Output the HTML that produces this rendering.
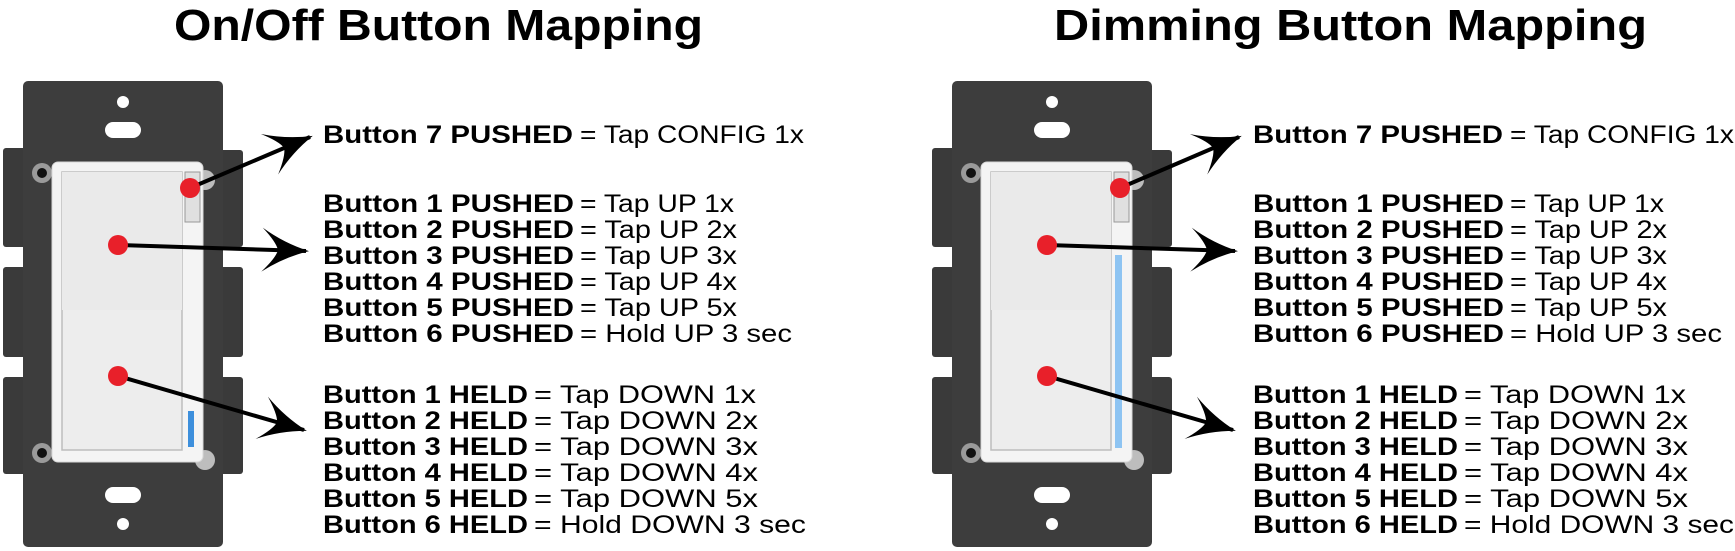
<!DOCTYPE html>
<html><head><meta charset="utf-8"><style>
html,body{margin:0;padding:0;background:#fff;width:1735px;height:551px;overflow:hidden}
svg{display:block}
text{font-family:"Liberation Sans",sans-serif;fill:#000}
.b{font-weight:bold;font-size:25px}
.r{font-size:25px}
.t{font-weight:bold;font-size:44px}
</style></head><body>
<svg width="1735" height="551" viewBox="0 0 1735 551" xmlns="http://www.w3.org/2000/svg">
<defs>
<marker id="ah" markerUnits="userSpaceOnUse" markerWidth="50" markerHeight="50" refX="0" refY="0" viewBox="-46 -25 50 50" orient="auto">
<path d="M3,0 Q-22,-7 -44,-22 Q-30,-8 -28,0 Q-30,8 -44,22 Q-22,7 3,0 Z" fill="#000"/>
</marker>
<g id="sw">
<rect x="3" y="148" width="26" height="99" rx="3" fill="#3a3a3a"/>
<rect x="3" y="267" width="26" height="90" rx="3" fill="#3a3a3a"/>
<rect x="3" y="377" width="26" height="97" rx="3" fill="#3a3a3a"/>
<rect x="217" y="150" width="26" height="97" rx="3" fill="#3a3a3a"/>
<rect x="217" y="267" width="26" height="90" rx="3" fill="#3a3a3a"/>
<rect x="217" y="377" width="26" height="97" rx="3" fill="#3a3a3a"/>
<rect x="23" y="81" width="200" height="466" rx="5" fill="#3d3d3d"/>
<circle cx="123" cy="102" r="6" fill="#fff"/>
<rect x="105" y="122" width="36" height="16" rx="8" fill="#fff"/>
<rect x="105" y="487" width="36" height="16" rx="8" fill="#fff"/>
<circle cx="123" cy="524" r="6" fill="#fff"/>
<circle cx="42" cy="173" r="10" fill="#9a9a9a"/><circle cx="42" cy="173" r="5" fill="#111"/>
<circle cx="42" cy="453" r="10" fill="#9a9a9a"/><circle cx="42" cy="453" r="5" fill="#111"/>
<circle cx="205" cy="180" r="10" fill="#bdbdbd"/>
<circle cx="205" cy="460" r="10" fill="#bdbdbd"/>
<rect x="52" y="162" width="151" height="300" rx="6" fill="#f4f4f4" stroke="#d8d8d8" stroke-width="1"/>
<rect x="62" y="172" width="120" height="278" fill="#ededed" stroke="#bdbdbd" stroke-width="1.5"/>
<rect x="62" y="172" width="120" height="138" fill="#eaeaea"/>
<rect x="185" y="172" width="15" height="50" fill="#e0e0e0" stroke="#999" stroke-width="1"/>
</g>
</defs>

<text class="t" x="174" y="40" textLength="529" lengthAdjust="spacingAndGlyphs">On/Off Button Mapping</text>
<text class="t" x="1054" y="40" textLength="593" lengthAdjust="spacingAndGlyphs">Dimming Button Mapping</text>

<use href="#sw"/>
<rect x="188" y="411" width="6" height="36" fill="#3d8fdc"/>
<g stroke="#000" stroke-width="4" fill="none" marker-end="url(#ah)">
<line x1="190" y1="188" x2="310" y2="137"/>
<line x1="118" y1="245" x2="306" y2="251"/>
<line x1="118" y1="376" x2="304" y2="430"/>
</g>
<g fill="#e8202a"><circle cx="190" cy="188" r="10"/><circle cx="118" cy="245" r="10"/><circle cx="118" cy="376" r="10"/></g>

<use href="#sw" x="929"/>
<rect x="1115" y="255" width="7" height="193" fill="#8ec4f2"/>
<g stroke="#000" stroke-width="4" fill="none" marker-end="url(#ah)">
<line x1="1120" y1="188" x2="1239" y2="137"/>
<line x1="1047" y1="245" x2="1235" y2="251"/>
<line x1="1047" y1="376" x2="1233" y2="430"/>
</g>
<g fill="#e8202a"><circle cx="1120" cy="188" r="10"/><circle cx="1047" cy="245" r="10"/><circle cx="1047" cy="376" r="10"/></g>

<g>
<text class="b" x="323" y="143" textLength="250" lengthAdjust="spacingAndGlyphs">Button 7 PUSHED</text><text class="r" x="580" y="143" textLength="224" lengthAdjust="spacingAndGlyphs">= Tap CONFIG 1x</text>
<text class="b" x="323" y="212" textLength="251" lengthAdjust="spacingAndGlyphs">Button 1  PUSHED</text><text class="r" x="580" y="212" textLength="154" lengthAdjust="spacingAndGlyphs">= Tap UP 1x</text>
<text class="b" x="323" y="238" textLength="251" lengthAdjust="spacingAndGlyphs">Button 2 PUSHED</text><text class="r" x="580" y="238" textLength="157" lengthAdjust="spacingAndGlyphs">= Tap UP 2x</text>
<text class="b" x="323" y="264" textLength="251" lengthAdjust="spacingAndGlyphs">Button 3 PUSHED</text><text class="r" x="580" y="264" textLength="157" lengthAdjust="spacingAndGlyphs">= Tap UP 3x</text>
<text class="b" x="323" y="290" textLength="251" lengthAdjust="spacingAndGlyphs">Button 4 PUSHED</text><text class="r" x="580" y="290" textLength="157" lengthAdjust="spacingAndGlyphs">= Tap UP 4x</text>
<text class="b" x="323" y="316" textLength="251" lengthAdjust="spacingAndGlyphs">Button 5 PUSHED</text><text class="r" x="580" y="316" textLength="157" lengthAdjust="spacingAndGlyphs">= Tap UP 5x</text>
<text class="b" x="323" y="342" textLength="251" lengthAdjust="spacingAndGlyphs">Button 6 PUSHED</text><text class="r" x="580" y="342" textLength="212" lengthAdjust="spacingAndGlyphs">= Hold UP 3 sec</text>
<text class="b" x="323" y="403" textLength="205" lengthAdjust="spacingAndGlyphs">Button 1  HELD</text><text class="r" x="534" y="403" textLength="222" lengthAdjust="spacingAndGlyphs">= Tap DOWN 1x</text>
<text class="b" x="323" y="429" textLength="205" lengthAdjust="spacingAndGlyphs">Button 2 HELD</text><text class="r" x="534" y="429" textLength="224" lengthAdjust="spacingAndGlyphs">= Tap DOWN 2x</text>
<text class="b" x="323" y="455" textLength="205" lengthAdjust="spacingAndGlyphs">Button 3 HELD</text><text class="r" x="534" y="455" textLength="224" lengthAdjust="spacingAndGlyphs">= Tap DOWN 3x</text>
<text class="b" x="323" y="481" textLength="205" lengthAdjust="spacingAndGlyphs">Button 4 HELD</text><text class="r" x="534" y="481" textLength="224" lengthAdjust="spacingAndGlyphs">= Tap DOWN 4x</text>
<text class="b" x="323" y="507" textLength="205" lengthAdjust="spacingAndGlyphs">Button 5 HELD</text><text class="r" x="534" y="507" textLength="224" lengthAdjust="spacingAndGlyphs">= Tap DOWN 5x</text>
<text class="b" x="323" y="533" textLength="205" lengthAdjust="spacingAndGlyphs">Button 6 HELD</text><text class="r" x="534" y="533" textLength="272" lengthAdjust="spacingAndGlyphs">= Hold DOWN 3 sec</text>
</g>
<g transform="translate(930,0)">
<text class="b" x="323" y="143" textLength="250" lengthAdjust="spacingAndGlyphs">Button 7 PUSHED</text><text class="r" x="580" y="143" textLength="224" lengthAdjust="spacingAndGlyphs">= Tap CONFIG 1x</text>
<text class="b" x="323" y="212" textLength="251" lengthAdjust="spacingAndGlyphs">Button 1  PUSHED</text><text class="r" x="580" y="212" textLength="154" lengthAdjust="spacingAndGlyphs">= Tap UP 1x</text>
<text class="b" x="323" y="238" textLength="251" lengthAdjust="spacingAndGlyphs">Button 2 PUSHED</text><text class="r" x="580" y="238" textLength="157" lengthAdjust="spacingAndGlyphs">= Tap UP 2x</text>
<text class="b" x="323" y="264" textLength="251" lengthAdjust="spacingAndGlyphs">Button 3 PUSHED</text><text class="r" x="580" y="264" textLength="157" lengthAdjust="spacingAndGlyphs">= Tap UP 3x</text>
<text class="b" x="323" y="290" textLength="251" lengthAdjust="spacingAndGlyphs">Button 4 PUSHED</text><text class="r" x="580" y="290" textLength="157" lengthAdjust="spacingAndGlyphs">= Tap UP 4x</text>
<text class="b" x="323" y="316" textLength="251" lengthAdjust="spacingAndGlyphs">Button 5 PUSHED</text><text class="r" x="580" y="316" textLength="157" lengthAdjust="spacingAndGlyphs">= Tap UP 5x</text>
<text class="b" x="323" y="342" textLength="251" lengthAdjust="spacingAndGlyphs">Button 6 PUSHED</text><text class="r" x="580" y="342" textLength="212" lengthAdjust="spacingAndGlyphs">= Hold UP 3 sec</text>
<text class="b" x="323" y="403" textLength="205" lengthAdjust="spacingAndGlyphs">Button 1  HELD</text><text class="r" x="534" y="403" textLength="222" lengthAdjust="spacingAndGlyphs">= Tap DOWN 1x</text>
<text class="b" x="323" y="429" textLength="205" lengthAdjust="spacingAndGlyphs">Button 2 HELD</text><text class="r" x="534" y="429" textLength="224" lengthAdjust="spacingAndGlyphs">= Tap DOWN 2x</text>
<text class="b" x="323" y="455" textLength="205" lengthAdjust="spacingAndGlyphs">Button 3 HELD</text><text class="r" x="534" y="455" textLength="224" lengthAdjust="spacingAndGlyphs">= Tap DOWN 3x</text>
<text class="b" x="323" y="481" textLength="205" lengthAdjust="spacingAndGlyphs">Button 4 HELD</text><text class="r" x="534" y="481" textLength="224" lengthAdjust="spacingAndGlyphs">= Tap DOWN 4x</text>
<text class="b" x="323" y="507" textLength="205" lengthAdjust="spacingAndGlyphs">Button 5 HELD</text><text class="r" x="534" y="507" textLength="224" lengthAdjust="spacingAndGlyphs">= Tap DOWN 5x</text>
<text class="b" x="323" y="533" textLength="205" lengthAdjust="spacingAndGlyphs">Button 6 HELD</text><text class="r" x="534" y="533" textLength="270" lengthAdjust="spacingAndGlyphs">= Hold DOWN 3 sec</text>
</g>
</svg>
</body></html>
